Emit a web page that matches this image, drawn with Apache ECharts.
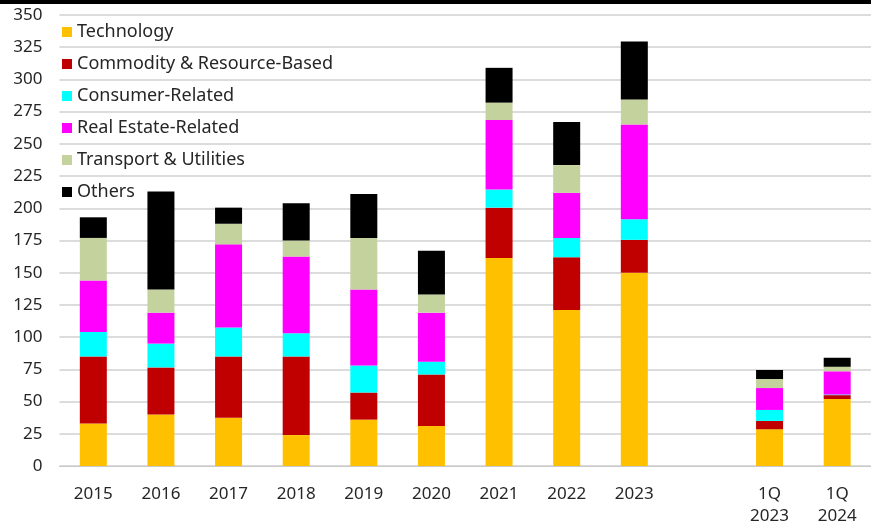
<!DOCTYPE html>
<html>
<head>
<meta charset="utf-8">
<script src="https://cdn.jsdelivr.net/npm/echarts@6/dist/echarts.min.js"></script>
<style>
  html, body { margin: 0; padding: 0; background: #fff; }
  #chart { width: 871px; height: 527px; }
</style>
</head>
<body>
<div id="chart"></div>
<script>
// Categories: annual totals, a spacer slot, then first-quarter figures
const categories = ['2015', '2016', '2017', '2018', '2019', '2020', '2021', '2022', '2023', '', '1Q\n2023', '1Q\n2024'];

// Sector values per category (null = spacer)
const technology  = [33, 40, 37.5, 24, 36, 31, 161.5, 121, 150, null, 28.5, 52];
const commodity   = [52, 36.5, 47.5, 61, 21, 40, 39, 41, 25.5, null, 6.5, 3];
const consumer    = [19, 18.5, 22.5, 18, 21, 10, 14, 15, 16, null, 8.5, 0.5];
const realEstate  = [40, 24, 64.5, 59.5, 59, 38, 54, 35, 73.5, null, 17, 18];
const transport   = [33, 18, 16, 12.5, 40, 14, 13.5, 21.5, 19.5, null, 7, 3.5];
const others      = [16, 76, 12.5, 29, 34, 34, 27, 33.5, 45, null, 7, 7];

const yTicks = { min: 0, max: 350, interval: 25 };

const seriesDefs = [
  { name: 'Technology', data: technology, color: '#FFC000' },
  { name: 'Commodity & Resource-Based', data: commodity, color: '#C00000' },
  { name: 'Consumer-Related', data: consumer, color: '#00FFFF' },
  { name: 'Real Estate-Related', data: realEstate, color: '#FF00FF' },
  { name: 'Transport & Utilities', data: transport, color: '#C4D29E' },
  { name: 'Others', data: others, color: '#000000' }
];

const textColor = '#262626';
const font = 'Noto Sans';

const chart = echarts.init(document.getElementById('chart'));
chart.setOption({
  animation: false,
  backgroundColor: '#ffffff',
  graphic: [{
    type: 'rect',
    left: 0, top: 0,
    shape: { width: 871, height: 4 },
    style: { fill: '#000000' },
    z: 100
  }],
  grid: { left: 59.5, top: 15, width: 822, height: 453, containLabel: false },
  legend: {
    orient: 'vertical',
    left: 57,
    top: 18,
    icon: 'rect',
    itemWidth: 10,
    itemHeight: 10,
    itemGap: 14,
    textStyle: { color: textColor, fontSize: 18, fontFamily: font, lineHeight: 18, padding: [0, 0, 0, 0] },
    data: seriesDefs.map(s => s.name)
  },
  xAxis: {
    type: 'category',
    data: categories,
    axisLine: { lineStyle: { color: '#c8c8c8', width: 1 } },
    axisTick: { show: false },
    axisLabel: {
      color: textColor, fontSize: 17, fontFamily: font, margin: 17,
      lineHeight: 22, interval: 0
    }
  },
  yAxis: {
    type: 'value',
    min: yTicks.min, max: yTicks.max, interval: yTicks.interval,
    axisLine: { show: false },
    axisTick: { show: false },
    splitLine: { lineStyle: { color: '#dcdcdc', width: 2 } },
    axisLabel: { color: textColor, fontSize: 17, fontFamily: font, margin: 17 }
  },
  series: seriesDefs.map(s => ({
    name: s.name,
    type: 'bar',
    stack: 'total',
    barWidth: 27,
    data: s.data,
    itemStyle: { color: s.color },
    emphasis: { disabled: true }
  }))
});
</script>
</body>
</html>
